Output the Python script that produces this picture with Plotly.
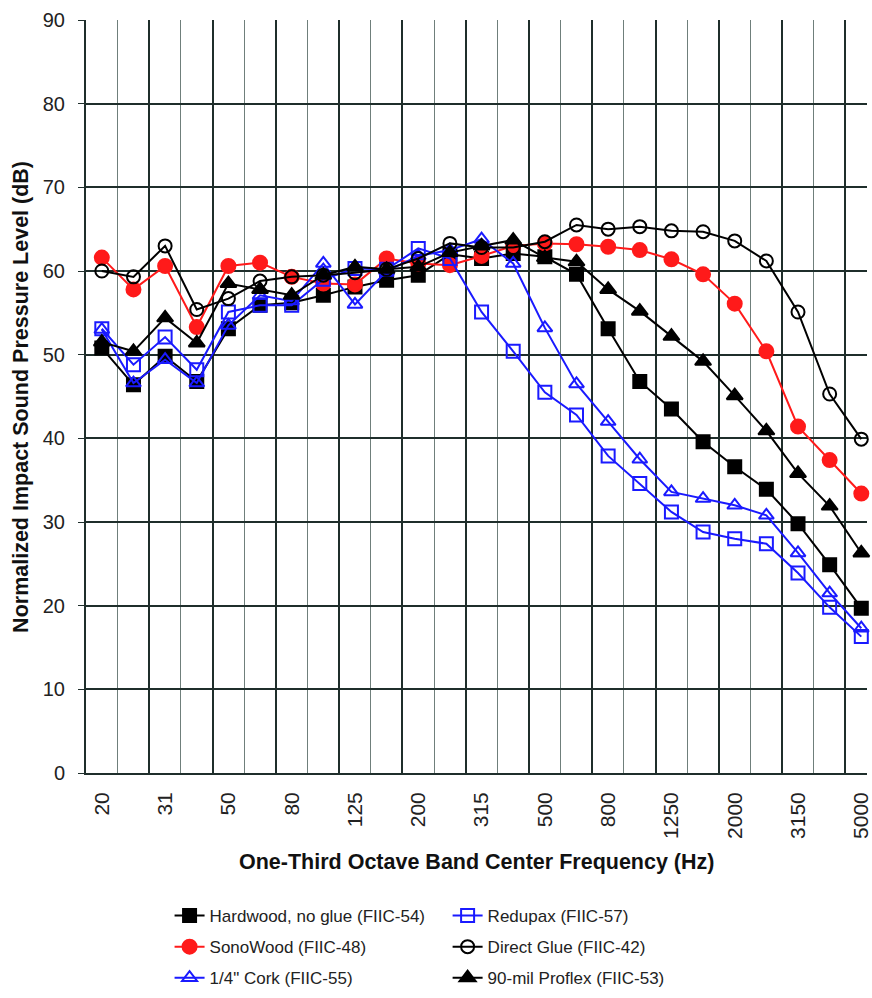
import plotly.graph_objects as go

bands = ["20", "25", "31", "40", "50", "63", "80", "100", "125", "160", "200", "250",
         "315", "400", "500", "630", "800", "1000", "1250", "1600", "2000", "2500",
         "3150", "4000", "5000"]

hardwood = [50.8, 46.4, 49.8, 46.8, 53.1, 55.9, 56.2, 57.1, 58.1, 58.9, 59.5, 62.0, 61.5,
            62.1, 61.7, 59.6, 53.1, 46.8, 43.5, 39.6, 36.6, 33.9, 29.8, 24.9, 19.7]
sonowood = [61.6, 57.8, 60.6, 53.3, 60.6, 61.0, 59.3, 58.5, 58.4, 61.5, 60.9, 60.7, 61.8,
            63.0, 63.3, 63.2, 62.9, 62.5, 61.4, 59.6, 56.1, 50.4, 41.4, 37.4, 33.4]
cork = [53.0, 46.6, 49.4, 46.6, 53.5, 57.1, 56.4, 60.9, 56.0, 60.0, 61.8, 62.5, 63.8,
        60.9, 53.2, 46.5, 42.0, 37.5, 33.6, 32.8, 32.0, 30.8, 26.3, 21.5, 17.3]
redupax = [53.1, 48.8, 52.1, 48.2, 55.1, 55.9, 55.9, 59.0, 60.3, 60.2, 62.7, 61.5, 55.1,
           50.4, 45.5, 42.8, 37.9, 34.6, 31.2, 28.8, 28.0, 27.4, 23.9, 19.8, 16.3]
direct_glue = [60.0, 59.3, 63.0, 55.4, 56.7, 58.8, 59.3, 59.5, 59.8, 60.2, 61.5, 63.3, 62.8,
               62.8, 63.5, 65.5, 65.0, 65.3, 64.8, 64.7, 63.6, 61.2, 55.1, 45.3, 39.9]
proflex = [51.5, 50.4, 54.4, 51.4, 58.5, 57.8, 57.1, 59.5, 60.5, 60.2, 60.5, 62.2, 63.0,
           63.7, 61.6, 61.1, 57.8, 55.2, 52.2, 49.2, 45.1, 40.9, 35.8, 31.9, 26.3]

names = ["Hardwood, no glue (FIIC-54)", "SonoWood (FIIC-48)", "1/4\" Cork (FIIC-55)",
         "Redupax (FIIC-57)", "Direct Glue (FIIC-42)", "90-mil Proflex (FIIC-53)"]

FONT = "Liberation Sans, Arial, sans-serif"
BLACK = "#000000"
RED = "#ff1a1a"
BLUE = "#1a1aff"
DARK = "#1f2e2b"
LIGHT = "#6f7f7b"

idx = list(range(len(bands)))
XRANGE = [-0.5, 24.18]

series = [
    (hardwood, names[0], BLACK, "square", 13, "legend"),
    (sonowood, names[1], RED, "circle", 14, "legend"),
    (cork, names[2], BLUE, "triangle-up-open", 13, "legend"),
    (redupax, names[3], BLUE, "square-open", 13, "legend2"),
    (direct_glue, names[4], BLACK, "circle-open", 13, "legend2"),
    (proflex, names[5], BLACK, "triangle-up", 14, "legend2"),
]

fig = go.Figure()
for i, (vals, name, col, sym, size, leg) in enumerate(series):
    fig.add_trace(go.Scatter(
        x=idx, y=vals, name=name, mode="lines+markers",
        line=dict(color=col, width=2),
        marker=dict(symbol=sym, size=size, color=col, line=dict(color=col, width=2)),
        legend=leg, legendgroup=f"g{i}", cliponaxis=False,
    ))

# empty helper trace so the label axis (x2) is rendered
fig.add_trace(go.Scatter(x=[], y=[], xaxis="x2", showlegend=False, hoverinfo="skip"))

fig.update_layout(
    width=872, height=998, autosize=False,
    margin=dict(l=86, r=0, t=20, b=225),
    paper_bgcolor="white", plot_bgcolor="white",
    font=dict(family=FONT, color="#222222"),
    xaxis=dict(
        range=XRANGE, tickmode="linear", tick0=-0.5, dtick=2,
        showticklabels=False, ticks="", showgrid=True, gridcolor=DARK, gridwidth=1.5,
        minor=dict(tickmode="linear", tick0=-0.5, dtick=1, showgrid=True,
                   gridcolor=LIGHT, gridwidth=1),
        showline=True, linecolor=DARK, linewidth=2, zeroline=False,
    ),
    xaxis2=dict(
        overlaying="x", anchor="y", side="bottom", range=XRANGE,
        tickmode="array", tickvals=idx[::2], ticktext=bands[::2], tickangle=-90,
        showgrid=False, ticks="", ticklabelstandoff=14, zeroline=False, showline=False,
        ticklabeloverflow="allow",
        tickfont=dict(size=21, family=FONT, color="#222222"),
    ),
    yaxis=dict(
        range=[0, 90], tickmode="linear", tick0=0, dtick=10,
        showgrid=True, gridcolor=DARK, gridwidth=1.5,
        showline=True, linecolor=DARK, linewidth=2, ticks="outside", ticklen=6,
        tickcolor=DARK, ticklabelstandoff=9,
        tickfont=dict(size=20, family=FONT, color="#222222"),
        zeroline=False,
    ),
    legend=dict(x=0.107, y=-0.166, xanchor="left", yanchor="top",
                orientation="v", tracegroupgap=6, bgcolor="rgba(0,0,0,0)",
                font=dict(size=17, family=FONT, color="#222222")),
    legend2=dict(x=0.463, y=-0.166, xanchor="left", yanchor="top",
                 orientation="v", tracegroupgap=6, bgcolor="rgba(0,0,0,0)",
                 font=dict(size=17, family=FONT, color="#222222")),
    annotations=[
        dict(text="<b>One-Third Octave Band Center Frequency (Hz)</b>",
             xref="paper", yref="paper", x=0.5, y=-0.118, xanchor="center", yanchor="middle",
             showarrow=False, font=dict(size=21.5, family=FONT, color="#111111")),
        dict(text="<b>Normalized Impact Sound Pressure Level (dB)</b>",
             xref="paper", yref="paper", x=-0.084, y=0.5, xanchor="center", yanchor="middle",
             textangle=-90, showarrow=False, font=dict(size=21.5, family=FONT, color="#111111")),
    ],
)

fig.write_html(
    "out.html",
    config={"displayModeBar": False},
    post_script="document.body.style.margin='0';document.body.style.overflow='hidden';",
)
